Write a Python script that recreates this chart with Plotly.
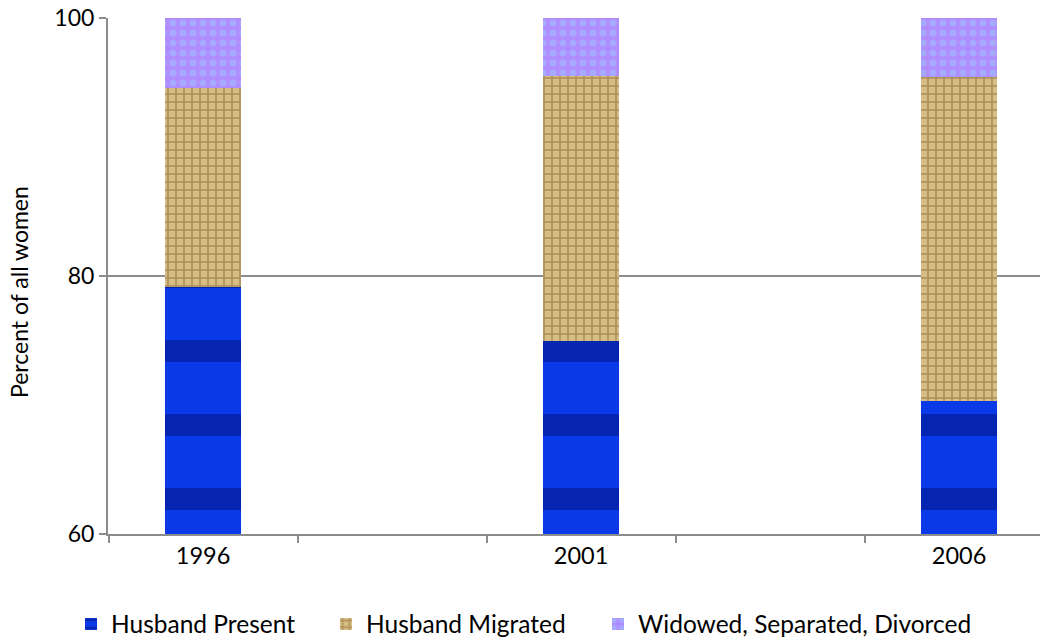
import plotly.graph_objects as go

years = [1996, 2001, 2006]
year_labels = ["1996", "2001", "2006"]
husband_present = [79.15, 74.95, 70.3]
husband_migrated = [15.45, 20.55, 25.1]
widowed_sep_div = [5.4, 4.5, 4.6]

FONT = "Lato"
W, H = 1042, 640
OFF = 0
PLOT_L, PLOT_R, PLOT_T, PLOT_B = 108, 1040, 18, 534

fig = go.Figure()
fig.add_trace(go.Bar(
    x=years, y=husband_present, name="Husband Present", width=1.0, legend="legend",
    marker=dict(color="#0a3ae8", line=dict(width=0),
                pattern=dict(shape="-", fgcolor="#00107a", bgcolor="#0a3ae8",
                             size=74, solidity=0.3, fillmode="overlay")),
))
fig.add_trace(go.Bar(
    x=years, y=husband_migrated, name="Husband Migrated", width=1.0, legend="legend2",
    marker=dict(color="#c9ad72", line=dict(width=0),
                pattern=dict(shape="+", fgcolor="#7e5e2c", bgcolor="#d6bd84",
                             size=8, solidity=0.35, fillmode="overlay")),
))
fig.add_trace(go.Bar(
    x=years, y=widowed_sep_div, name="Widowed, Separated, Divorced", width=1.0, legend="legend3",
    marker=dict(color="#b294ff", line=dict(width=0),
                pattern=dict(shape=".", fgcolor="#9cc8ff", bgcolor="#b08cff",
                             size=10, solidity=0.4, fillmode="overlay")),
))

leg_common = dict(orientation="h", xref="container", yref="container",
                  yanchor="middle", y=1 - (624 - OFF) / H, xanchor="left",
                  font=dict(size=24.5, family=FONT), bgcolor="rgba(0,0,0,0)")

plot_w = PLOT_R - PLOT_L
plot_h = PLOT_B - PLOT_T

fig.update_layout(
    barmode="stack",
    width=W, height=H,
    margin=dict(l=PLOT_L - OFF, r=OFF + W - PLOT_R, t=PLOT_T - OFF, b=OFF + H - PLOT_B),
    plot_bgcolor="white", paper_bgcolor="white",
    font=dict(family=FONT, size=23, color="black"),
    showlegend=True,
    legend=dict(x=(91 - OFF - 20) / W, **leg_common),
    legend2=dict(x=(346 - OFF - 20) / W, **leg_common),
    legend3=dict(x=(618 - OFF - 20) / W, **leg_common),
    xaxis=dict(
        range=[1994.743, 2007.071], automargin=False,
        tickmode="array", tickvals=years, ticktext=year_labels,
        ticks="", showgrid=False, zeroline=False,
        showline=True, linecolor="#8c8c8c", linewidth=2,
        tickfont=dict(size=23.5, family=FONT),
        minor=dict(tick0=1994.75, dtick=2.5, ticks="outside", ticklen=7,
                   tickcolor="#8c8c8c", tickwidth=2, showgrid=False),
    ),
    yaxis=dict(
        range=[60, 100], tickmode="array", tickvals=[60, 80, 100], automargin=False,
        ticklabeloverflow="allow",
        ticks="outside", ticklen=7, tickcolor="#8c8c8c", tickwidth=2,
        showgrid=True, gridcolor="#8c8c8c", gridwidth=2, zeroline=False,
        showline=True, linecolor="#8c8c8c", linewidth=2,
        tickfont=dict(size=23, family=FONT),
    ),
    annotations=[dict(
        text="Percent of all women", textangle=-90, showarrow=False,
        xref="paper", yref="paper",
        x=(19 - PLOT_L) / plot_w, y=(PLOT_B - 292) / plot_h,
        xanchor="center", yanchor="middle",
        font=dict(size=23, family=FONT, color="black"),
    )],
)

fig.write_html("out.html", config={"displayModeBar": False},
               post_script="document.body.style.margin='0px';")
